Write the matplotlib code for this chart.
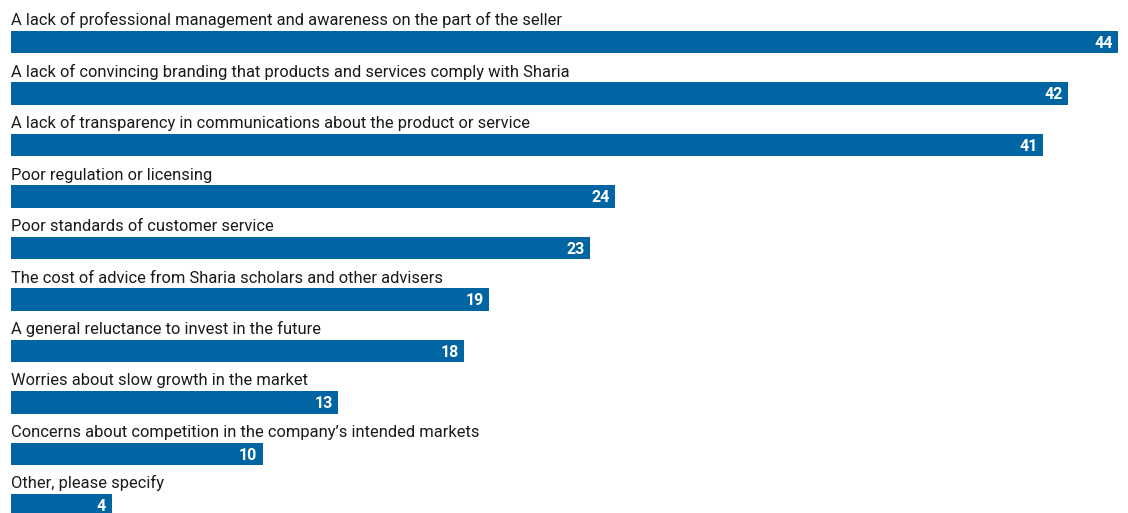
import matplotlib.pyplot as plt

categories = [
    "A lack of professional management and awareness on the part of the seller",
    "A lack of convincing branding that products and services comply with Sharia",
    "A lack of transparency in communications about the product or service",
    "Poor regulation or licensing",
    "Poor standards of customer service",
    "The cost of advice from Sharia scholars and other advisers",
    "A general reluctance to invest in the future",
    "Worries about slow growth in the market",
    "Concerns about competition in the company\u2019s intended markets",
    "Other, please specify",
]
values = [44, 42, 41, 24, 23, 19, 18, 13, 10, 4]

blue = "#0065a2"
plt.rcParams['font.family'] = ['Roboto', 'DejaVu Sans']

fig = plt.figure(figsize=(11.28, 5.13), dpi=100)
ax = fig.add_axes([11 / 1128, 0, 1 - 11 / 1128, 1])

pos = list(range(len(values)))
ax.barh(pos, values, height=0.43, color=blue, align='center')

for i, (cat, v) in enumerate(zip(categories, values)):
    ax.text(0, i - 0.33, cat, ha='left', va='baseline', fontsize=11.9, color='#1a1a1a')
    ax.text(v - 0.22, i + 0.02, str(v), ha='right', va='center',
            fontsize=11.5, fontweight='bold', color='white')

ax.set_xlim(0, 1117 / 25.17)
ax.set_ylim(9.146, -0.816)
ax.axis('off')

fig.savefig("out.png", dpi=100)
